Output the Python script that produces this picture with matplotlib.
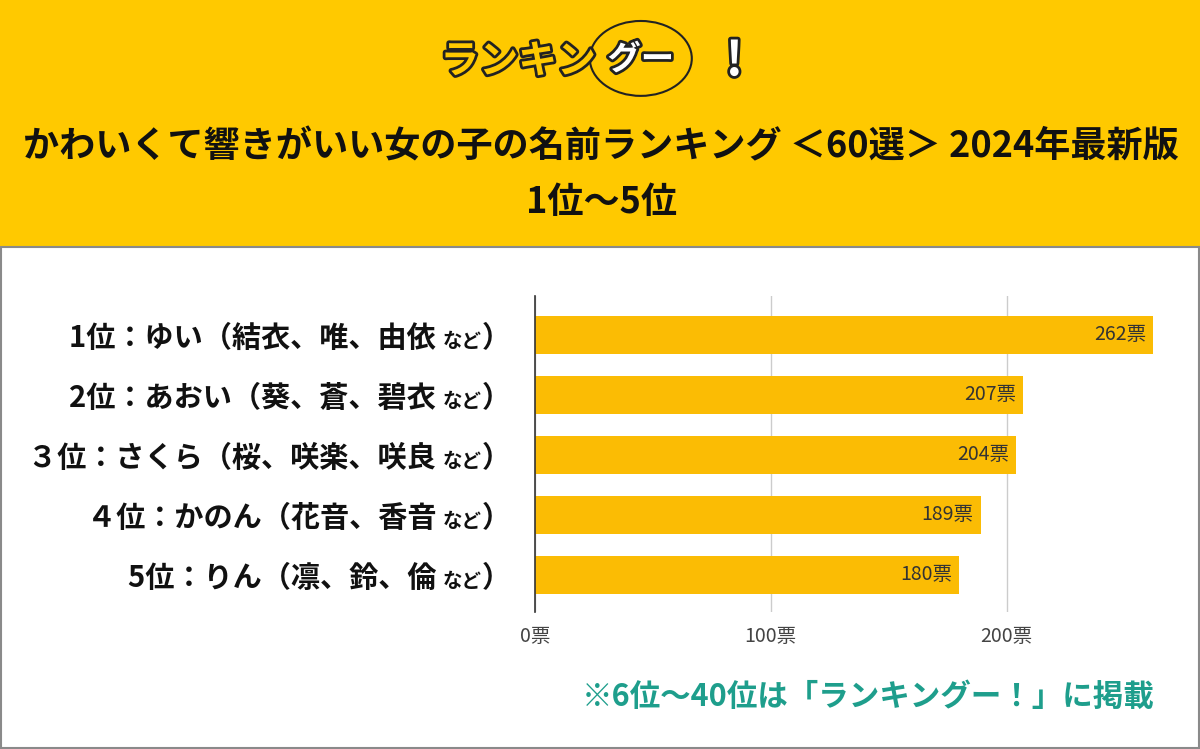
import matplotlib.pyplot as plt
import matplotlib.patheffects as pe
from matplotlib.patches import Rectangle, Ellipse

plt.rcParams['font.family'] = ['Noto Sans CJK JP', 'DejaVu Sans']

# data
ranks = ['1位：ゆい', '2位：あおい', '３位：さくら', '４位：かのん', '5位：りん']
kanji = ['（結衣、唯、由依', '（葵、蒼、碧衣', '（桜、咲楽、咲良', '（花音、香音', '（凛、鈴、倫']
votes = [262, 207, 204, 189, 180]
ticks = [0, 100, 200]
tick_labels = ['0票', '100票', '200票']

title = 'かわいくて響きがいい女の子の名前ランキング ＜60選＞ 2024年最新版'
subtitle = '1位～5位'
note = '※6位～40位は「ランキングー！」に掲載'

yellow = '#FFC900'
bar_color = '#FBBC04'

fig = plt.figure(figsize=(12, 7.49), dpi=100)
fig.patch.set_facecolor('white')

# header band and frame
fig.patches.append(Rectangle((0, 0.670), 1, 0.330, transform=fig.transFigure,
                             facecolor=yellow, edgecolor='none', zorder=0))
fig.patches.append(Rectangle((0.001, 0.002), 0.998, 0.668, transform=fig.transFigure,
                             facecolor='none', edgecolor='#8a8a8a', lw=1.5, zorder=1))

# logo
outline = [pe.withStroke(linewidth=4, foreground='#222222')]
fig.text(0.367, 0.918, 'ランキン', fontsize=28, fontweight='bold', color=yellow,
         ha='left', va='center', path_effects=outline)
fig.patches.append(Ellipse((0.534, 0.922), 0.085, 0.100, transform=fig.transFigure,
                           facecolor='none', edgecolor='#222222', lw=1.5))
fig.text(0.534, 0.920, 'グー', fontsize=24, fontweight='bold', color='white',
         ha='center', va='center', path_effects=outline)
fig.text(0.612, 0.918, '!', fontsize=34, fontweight='bold', color='white',
         ha='center', va='center', path_effects=outline)

# titles
fig.text(0.501, 0.804, title, fontsize=26, fontweight='bold', color='#111111',
         ha='center', va='center')
fig.text(0.501, 0.729, subtitle, fontsize=26, fontweight='bold', color='#111111',
         ha='center', va='center')

ax = fig.add_axes([0.4458, 0.1829, 0.5208, 0.4219])
y = list(range(len(votes)))
ax.barh(y, votes, height=0.64, color=bar_color, zorder=2)
ax.set_xlim(0, 265)
ax.set_ylim(4.62, -0.65)

for i, v in enumerate(votes):
    ax.annotate(f'{v}票', xy=(v, i), xytext=(-7, 0), textcoords='offset pixels',
                ha='right', va='center', fontsize=14, color='#333333', zorder=3)

ax.set_xticks(ticks)
ax.set_xticklabels(tick_labels, fontsize=14, color='#444444')
ax.tick_params(axis='x', length=0, pad=10)
ax.set_yticks([])
ax.grid(axis='x', color='#cccccc', lw=1, zorder=0)
for s in ['top', 'right', 'bottom']:
    ax.spines[s].set_visible(False)
ax.spines['left'].set_color('#333333')
ax.spines['left'].set_linewidth(1.2)
ax.spines['left'].set_zorder(3)

# row labels: main part, small "など", closing paren
for i in y:
    t3 = ax.annotate('）', xy=(0, i), xycoords=('axes fraction', 'data'),
                     xytext=(-24, -12), textcoords='offset pixels',
                     ha='right', va='baseline', fontsize=21, fontweight='bold',
                     color='#111111', annotation_clip=False)
    t2 = ax.annotate('など', xy=(0, i), xycoords=(t3, 'data'),
                     xytext=(0, -12), textcoords='offset pixels',
                     ha='right', va='baseline', fontsize=14, fontweight='bold',
                     color='#111111', annotation_clip=False)
    ax.annotate(ranks[i] + kanji[i] + ' ', xy=(0, i), xycoords=(t2, 'data'),
                xytext=(0, -12), textcoords='offset pixels',
                ha='right', va='baseline', fontsize=21, fontweight='bold',
                color='#111111', annotation_clip=False)

fig.text(0.962, 0.069, note, fontsize=22, fontweight='bold', color='#1E9E8C',
         ha='right', va='center')

fig.savefig('out.png', dpi=100)
